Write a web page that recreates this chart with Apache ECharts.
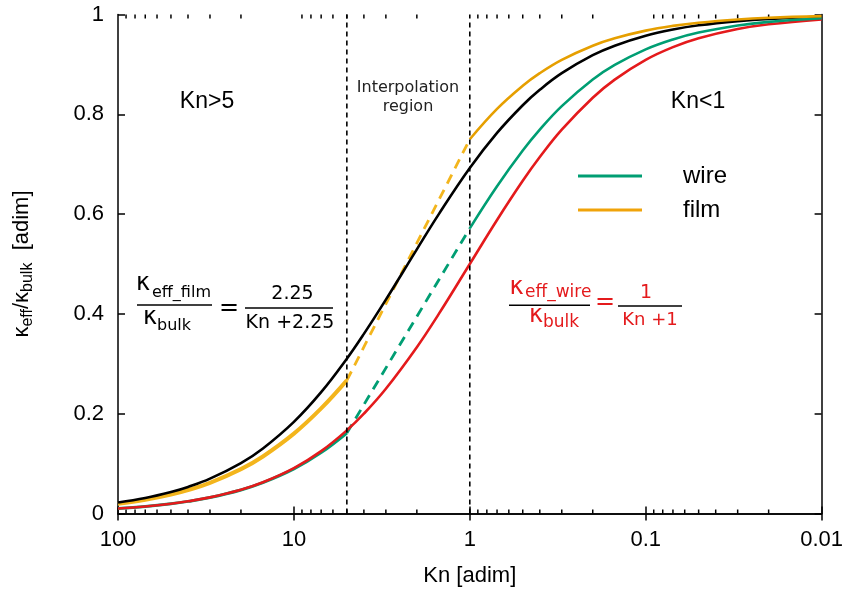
<!DOCTYPE html>
<html>
<head>
<meta charset="utf-8">
<script src="https://cdn.jsdelivr.net/npm/echarts@6.0.0/dist/echarts.min.js"></script>
<style>
html,body{margin:0;padding:0;background:#fff;}
#chart{width:846px;height:594px;}
</style>
</head>
<body>
<div id="chart"></div>
<script>
// ---- data ----
const knAll = [100,70,50,40,30,20,15,10,7,5,4,3,2,1.5,1,0.7,0.5,0.4,0.3,0.2,0.15,0.1,0.07,0.05,0.03,0.02,0.01];
const blackFilm = [0.0220,0.0311,0.0431,0.0533,0.0698,0.1011,0.1304,0.1837,0.2432,0.3103,0.3600,0.4286,0.5294,0.6000,0.6923,0.7627,0.8182,0.8491,0.8824,0.9184,0.9375,0.9574,0.9698,0.9783,0.9868,0.9912,0.9956];
const redWire = [0.0099,0.0141,0.0196,0.0244,0.0323,0.0476,0.0625,0.0909,0.1250,0.1667,0.2000,0.2500,0.3333,0.4000,0.5000,0.5882,0.6667,0.7143,0.7692,0.8333,0.8696,0.9091,0.9346,0.9524,0.9709,0.9804,0.9901];

const knHigh = [100,70,50,40,30,20,15,10,7,5];
const filmHigh = [0.0195,0.0276,0.0381,0.0471,0.0615,0.0889,0.1143,0.1600,0.2105,0.2667];
const wireHigh = [0.0099,0.0140,0.0195,0.0243,0.0321,0.0472,0.0617,0.0893,0.1220,0.1613];

const knLow = [1,0.7,0.5,0.4,0.3,0.2,0.15,0.1,0.07,0.05,0.03,0.02,0.01];
const filmLow = [0.7500,0.8108,0.8571,0.8824,0.9091,0.9375,0.9524,0.9677,0.9772,0.9836,0.9901,0.9934,0.9967];
const wireLow = [0.5714,0.6557,0.7273,0.7692,0.8163,0.8696,0.8989,0.9302,0.9501,0.9639,0.9780,0.9852,0.9926];

const knInterp = [5,1];
const filmInterp = [0.2667,0.7500];
const wireInterp = [0.1613,0.5714];

const regionBounds = [5,1];
const minorTickValues = [90,80,70,60,50,40,30,20,9,8,7,6,5,4,3,2,0.9,0.8,0.7,0.6,0.5,0.4,0.3,0.2,0.09,0.08,0.07,0.06,0.05,0.04,0.03,0.02];
const yTickLabels = ['0','0.2','0.4','0.6','0.8','1'];

// ---- chart ----
const GREEN = '#009E73', ORANGE = '#E69F00', YELLOW = '#F3B51C', RED = '#E41A1C';
const pairs = (xs, ys) => xs.map((x, i) => [x, ys[i]]);
const chart = echarts.init(document.getElementById('chart'), null, {renderer: 'canvas'});

const lineBase = {type: 'line', symbol: 'none', smooth: 0.4, silent: true, xAxisIndex: 0, yAxisIndex: 0};
const fmtX = v => String(Number(Number(v).toPrecision(6)));

const xCommon = {
  type: 'log', logBase: 10, min: 0.01, max: 100, inverse: true,
  axisLine: {lineStyle: {color: '#000', width: 1.5}},
  axisTick: {inside: true, length: 7, lineStyle: {color: '#000', width: 1.5}},
  splitLine: {show: false}, minorTick: {show: false}
};
const yCommon = {
  type: 'value', min: 0, max: 1, interval: 0.2,
  axisLine: {show: true, lineStyle: {color: '#000', width: 1.5}},
  axisTick: {show: true, inside: true, length: 7, lineStyle: {color: '#000', width: 1.5}},
  splitLine: {show: false}
};

const T = (text, x, y, opts) => Object.assign({
  type: 'text', x: x, y: y, silent: true, z: 100,
  style: Object.assign({text: text, fill: '#000', font: '19px "DejaVu Sans"', textAlign: 'left', textVerticalAlign: 'middle', align: 'left', verticalAlign: 'middle'}, opts || {})
});
const L = (x1, x2, y, color) => ({type: 'line', silent: true, z: 100, shape: {x1: x1, y1: y, x2: x2, y2: y}, style: {stroke: color, lineWidth: 1.5}});

chart.setOption({
  animation: false,
  backgroundColor: '#fff',
  grid: {left: 118, right: 24, top: 14.5, bottom: 80.5, containLabel: false},
  xAxis: [
    Object.assign({}, xCommon, {
      position: 'bottom',
      name: 'Kn [adim]', nameLocation: 'middle', nameGap: 51,
      nameTextStyle: {fontSize: 22, fontFamily: 'Liberation Sans', color: '#000'},
      axisLabel: {fontSize: 22, fontFamily: 'Liberation Sans', color: '#000', margin: 15, formatter: fmtX}
    }),
    Object.assign({}, xCommon, {position: 'top', axisLabel: {show: false}})
  ],
  yAxis: [
    Object.assign({}, yCommon, {
      position: 'left',
      name: '{k|κ}{s|eff}{k|/κ}{s|bulk}{k|  [adim]}', nameLocation: 'middle', nameGap: 82, nameRotate: 90,
      nameTextStyle: {
        color: '#000',
        rich: {
          k: {fontSize: 22, fontFamily: 'Liberation Sans', color: '#000', lineHeight: 28, verticalAlign: 'middle'},
          s: {fontSize: 16, fontFamily: 'Liberation Sans', color: '#000', lineHeight: 28, verticalAlign: 'bottom'}
        }
      },
      axisLabel: {fontSize: 22, fontFamily: 'Liberation Sans', color: '#000', margin: 14,
        formatter: v => yTickLabels[Math.round(v / 0.2)]}
    }),
    Object.assign({}, yCommon, {position: 'right', axisLabel: {show: false}})
  ],
  legend: {
    data: ['wire', 'film'], orient: 'vertical', left: 573, top: 159,
    icon: 'rect', itemWidth: 64, itemHeight: 3, itemGap: 10,
    selectedMode: false,
    textStyle: {fontSize: 24, fontFamily: 'Liberation Sans', color: '#000', lineHeight: 24, padding: [0, 0, 0, 36]}
  },
  series: [
    Object.assign({}, lineBase, {name: 'filmHigh', data: pairs(knHigh, filmHigh), lineStyle: {color: YELLOW, width: 4}, itemStyle: {color: YELLOW}}),
    Object.assign({}, lineBase, {name: 'wireHigh', data: pairs(knHigh, wireHigh), lineStyle: {color: GREEN, width: 3}, itemStyle: {color: GREEN}}),
    Object.assign({}, lineBase, {name: 'filmInterp', smooth: false, data: pairs(knInterp, filmInterp), lineStyle: {color: YELLOW, width: 2.8, type: [10, 7]}, itemStyle: {color: YELLOW}}),
    Object.assign({}, lineBase, {name: 'wireInterp', smooth: false, data: pairs(knInterp, wireInterp), lineStyle: {color: GREEN, width: 2.8, type: [10, 7]}, itemStyle: {color: GREEN}}),
    Object.assign({}, lineBase, {name: 'filmModel', data: pairs(knAll, blackFilm), lineStyle: {color: '#000', width: 2.6}, itemStyle: {color: '#000'}}),
    Object.assign({}, lineBase, {name: 'wireModel', data: pairs(knAll, redWire), lineStyle: {color: RED, width: 2.6}, itemStyle: {color: RED}}),
    Object.assign({}, lineBase, {name: 'wire', data: pairs(knLow, wireLow), lineStyle: {color: GREEN, width: 2.6}, itemStyle: {color: GREEN}}),
    Object.assign({}, lineBase, {name: 'film', data: pairs(knLow, filmLow), lineStyle: {color: ORANGE, width: 2.6}, itemStyle: {color: '#F0A30A'}}),
    Object.assign({}, lineBase, {name: 'bound5', smooth: false, data: [[regionBounds[0], 0], [regionBounds[0], 1]], lineStyle: {color: '#000', width: 1.6, type: [5, 4]}}),
    Object.assign({}, lineBase, {name: 'bound1', smooth: false, data: [[regionBounds[1], 0], [regionBounds[1], 1]], lineStyle: {color: '#000', width: 1.6, type: [5, 4]}}),
    {
      type: 'custom', name: 'minorTicks', silent: true, xAxisIndex: 0, yAxisIndex: 0,
      data: minorTickValues.map(v => [v, 0]),
      encode: {x: 0, y: 1},
      clip: false,
      renderItem: function (params, api) {
        const b = api.coord([api.value(0), 0]);
        const t = api.coord([api.value(0), 1]);
        return {type: 'group', children: [
          {type: 'line', shape: {x1: b[0], y1: b[1], x2: b[0], y2: b[1] - 4}, style: {stroke: '#000', lineWidth: 1.5}},
          {type: 'line', shape: {x1: t[0], y1: t[1], x2: t[0], y2: t[1] + 4}, style: {stroke: '#000', lineWidth: 1.5}}
        ]};
      }
    }
  ],
  graphic: [
    T('Kn>5', 207, 102, {font: '23px "Liberation Sans"', textAlign: 'center', align: 'center'}),
    T('Kn<1', 698, 102, {font: '23px "Liberation Sans"', textAlign: 'center', align: 'center'}),
    T('Interpolation', 408, 88, {font: '16px "DejaVu Sans"', fill: '#222', textAlign: 'center', align: 'center'}),
    T('region', 408, 107, {font: '16px "DejaVu Sans"', fill: '#222', textAlign: 'center', align: 'center'}),
    // film formula (black)
    T('κ', 136, 284, {font: '24px "DejaVu Sans"'}),
    T('eff_film', 152, 292.5, {font: '16px "DejaVu Sans"'}),
    L(137, 212, 305, '#000'),
    T('κ', 143, 317.5, {font: '24px "DejaVu Sans"'}),
    T('bulk', 157, 326, {font: '16px "DejaVu Sans"'}),
    T('=', 229, 309, {font: '24px "DejaVu Sans"', textAlign: 'center', align: 'center'}),
    T('2.25', 292.5, 294, {textAlign: 'center', align: 'center'}),
    L(245, 333, 308, '#000'),
    T('Kn +2.25', 290, 323, {textAlign: 'center', align: 'center'}),
    // wire formula (red)
    T('κ', 509.5, 287.5, {font: '24px "DejaVu Sans"', fill: RED}),
    T('eff_wire', 525, 292.5, {font: '17px "DejaVu Sans"', fill: RED}),
    L(509, 590, 305.3, '#000'),
    T('κ', 529, 315.5, {font: '24px "DejaVu Sans"', fill: RED}),
    T('bulk', 543, 322.5, {font: '17px "DejaVu Sans"', fill: RED}),
    T('=', 605, 303, {font: '24px "DejaVu Sans"', fill: RED, textAlign: 'center', align: 'center'}),
    T('1', 646, 293.3, {fill: RED, textAlign: 'center', align: 'center'}),
    L(618, 682, 306, '#000'),
    T('Kn +1', 650, 320.8, {font: '18px "DejaVu Sans"', fill: RED, textAlign: 'center', align: 'center'})
  ]
});
</script>
</body>
</html>
